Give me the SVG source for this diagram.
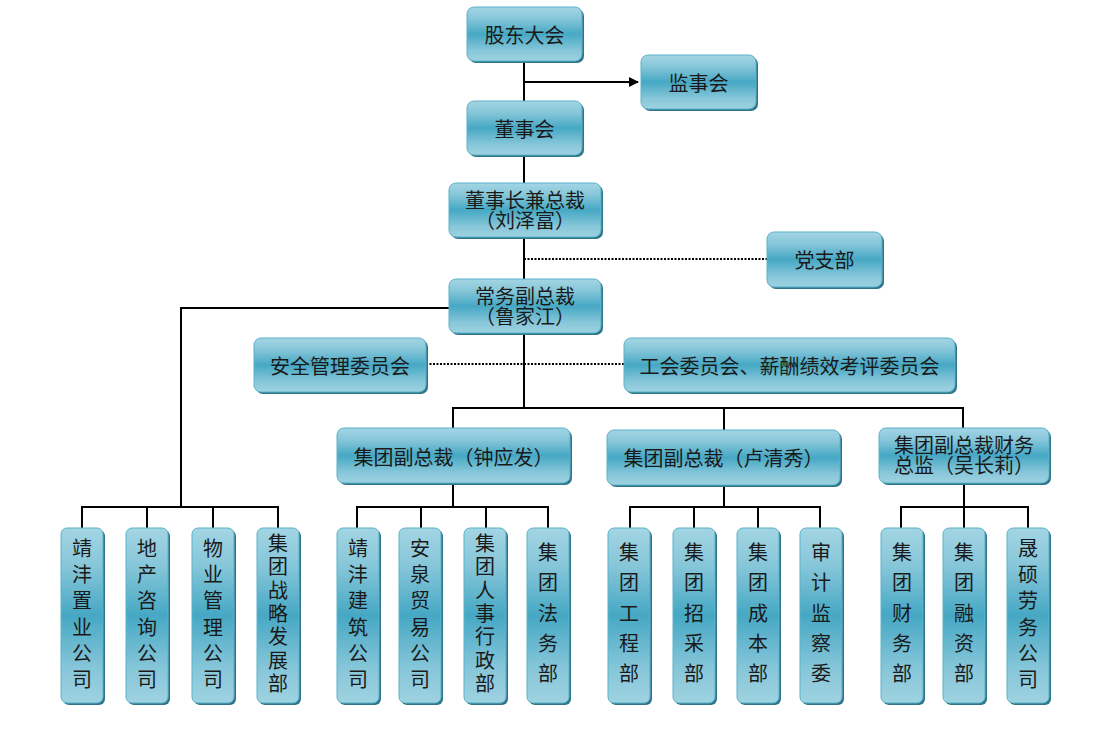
<svg xmlns="http://www.w3.org/2000/svg" width="1105" height="741" viewBox="0 0 1105 741">
<defs>
<linearGradient id="g" x1="0" y1="0" x2="0" y2="1">
<stop offset="0" stop-color="#a3d5e4"/>
<stop offset="0.22" stop-color="#86c6d9"/>
<stop offset="0.5" stop-color="#46a8c4"/>
<stop offset="0.8" stop-color="#86c6d9"/>
<stop offset="1" stop-color="#9ed2e1"/>
</linearGradient>
<marker id="arr" viewBox="0 0 10 10" refX="9" refY="5" markerWidth="5" markerHeight="5" orient="auto" markerUnits="strokeWidth">
<path d="M0,0 L10,5 L0,10 z" fill="#000"/>
</marker>
</defs>
<style>
.sh{fill:#2f7587;}
.bx{fill:url(#g);stroke:#5bb2c9;stroke-width:1;}
.t{font-family:"Liberation Serif","Noto Sans CJK SC",serif;font-size:20px;fill:#1a1a1a;text-anchor:middle;}
.ln{stroke:#000;stroke-width:2;fill:none;}
.dt{stroke:#000;stroke-width:2;fill:none;stroke-dasharray:2 1.5;}
</style>
<rect width="1105" height="741" fill="#fff"/>
<g id="connectors">
<path class="ln" d="M524,61V101"/>
<path class="ln" d="M524,82H638" marker-end="url(#arr)"/>
<path class="ln" d="M524,155V183"/>
<path class="ln" d="M524,237V279"/>
<path class="dt" d="M524,259H767"/>
<path class="ln" d="M524,333V408"/>
<path class="dt" d="M426,364H624"/>
<path class="ln" d="M449,308H181V507"/>
<path class="ln" d="M82,528V507H278V528M147,507V528M213,507V528"/>
<path class="ln" d="M453,428V408H963V428M724,408V430"/>
<path class="ln" d="M453,483V507M357,528V507H548V528M421,507V528M486,507V528"/>
<path class="ln" d="M724,485V507M630,528V507H820V528M694,507V528M758,507V528"/>
<path class="ln" d="M964,483V528M901,528V507H1028V528"/>
</g>
<g id="n-gudong"><rect class="sh" x="469" y="9" width="115" height="54" rx="7"/><rect class="bx" x="467" y="7" width="115" height="54" rx="7"/><text class="t" x="524.5" y="43">股东大会</text></g>
<g id="n-jianshi"><rect class="sh" x="643" y="57" width="115" height="54" rx="7"/><rect class="bx" x="641" y="55" width="115" height="54" rx="7"/><text class="t" x="698.5" y="91">监事会</text></g>
<g id="n-dongshi"><rect class="sh" x="469" y="103" width="115" height="54" rx="7"/><rect class="bx" x="467" y="101" width="115" height="54" rx="7"/><text class="t" x="524.5" y="137">董事会</text></g>
<g id="n-zongcai"><rect class="sh" x="451" y="185" width="152" height="54" rx="7"/><rect class="bx" x="449" y="183" width="152" height="54" rx="7"/><text class="t" x="525" y="208">董事长兼总裁</text><text class="t" x="525" y="228">（刘泽富）</text></g>
<g id="n-dangzhi"><rect class="sh" x="769" y="234" width="115" height="55" rx="7"/><rect class="bx" x="767" y="232" width="115" height="55" rx="7"/><text class="t" x="824.5" y="268">党支部</text></g>
<g id="n-changwu"><rect class="sh" x="451" y="281" width="152" height="54" rx="7"/><rect class="bx" x="449" y="279" width="152" height="54" rx="7"/><text class="t" x="525" y="304">常务副总裁</text><text class="t" x="525" y="324">（鲁家江）</text></g>
<g id="n-anquan"><rect class="sh" x="256" y="340" width="172" height="54" rx="7"/><rect class="bx" x="254" y="338" width="172" height="54" rx="7"/><text class="t" x="340" y="374">安全管理委员会</text></g>
<g id="n-gonghui"><rect class="sh" x="626" y="340" width="331" height="54" rx="7"/><rect class="bx" x="624" y="338" width="331" height="54" rx="7"/><text class="t" x="789.5" y="374">工会委员会、薪酬绩效考评委员会</text></g>
<g id="n-zhong"><rect class="sh" x="339" y="430" width="233" height="55" rx="7"/><rect class="bx" x="337" y="428" width="233" height="55" rx="7"/><text class="t" x="453.5" y="464.5">集团副总裁（钟应发）</text></g>
<g id="n-lu"><rect class="sh" x="609" y="432" width="233" height="55" rx="7"/><rect class="bx" x="607" y="430" width="233" height="55" rx="7"/><text class="t" x="723.5" y="466">集团副总裁（卢清秀）</text></g>
<g id="n-wu"><rect class="sh" x="881" y="430" width="170" height="55" rx="7"/><rect class="bx" x="879" y="428" width="170" height="55" rx="7"/><text class="t" x="964" y="453">集团副总裁财务</text><text class="t" x="964" y="473">总监（吴长莉）</text></g>

<g id="n-jingfengzhiye"><rect class="sh" x="63" y="530" width="42" height="175" rx="6"/><rect class="bx" x="61" y="528" width="42" height="175" rx="6"/><text class="t"><tspan x="82" y="556">靖</tspan><tspan x="82" y="582.2">沣</tspan><tspan x="82" y="608.4">置</tspan><tspan x="82" y="634.6">业</tspan><tspan x="82" y="660.8">公</tspan><tspan x="82" y="687">司</tspan></text></g>
<g id="n-dichan"><rect class="sh" x="128" y="530" width="42" height="175" rx="6"/><rect class="bx" x="126" y="528" width="42" height="175" rx="6"/><text class="t"><tspan x="147" y="556">地</tspan><tspan x="147" y="582.2">产</tspan><tspan x="147" y="608.4">咨</tspan><tspan x="147" y="634.6">询</tspan><tspan x="147" y="660.8">公</tspan><tspan x="147" y="687">司</tspan></text></g>
<g id="n-wuye"><rect class="sh" x="194" y="530" width="42" height="175" rx="6"/><rect class="bx" x="192" y="528" width="42" height="175" rx="6"/><text class="t"><tspan x="213" y="556">物</tspan><tspan x="213" y="582.2">业</tspan><tspan x="213" y="608.4">管</tspan><tspan x="213" y="634.6">理</tspan><tspan x="213" y="660.8">公</tspan><tspan x="213" y="687">司</tspan></text></g>
<g id="n-zhanlue"><rect class="sh" x="259" y="530" width="42" height="175" rx="6"/><rect class="bx" x="257" y="528" width="42" height="175" rx="6"/><text class="t"><tspan x="278" y="551">集</tspan><tspan x="278" y="574.3">团</tspan><tspan x="278" y="597.6">战</tspan><tspan x="278" y="620.9">略</tspan><tspan x="278" y="644.2">发</tspan><tspan x="278" y="667.5">展</tspan><tspan x="278" y="691">部</tspan></text></g>

<g id="n-jingfengjianzhu"><rect class="sh" x="339" y="530" width="42" height="175" rx="6"/><rect class="bx" x="337" y="528" width="42" height="175" rx="6"/><text class="t"><tspan x="358" y="556">靖</tspan><tspan x="358" y="582.2">沣</tspan><tspan x="358" y="608.4">建</tspan><tspan x="358" y="634.6">筑</tspan><tspan x="358" y="660.8">公</tspan><tspan x="358" y="687">司</tspan></text></g>
<g id="n-anquanmaoyi"><rect class="sh" x="401" y="530" width="42" height="175" rx="6"/><rect class="bx" x="399" y="528" width="42" height="175" rx="6"/><text class="t"><tspan x="420" y="556">安</tspan><tspan x="420" y="582.2">泉</tspan><tspan x="420" y="608.4">贸</tspan><tspan x="420" y="634.6">易</tspan><tspan x="420" y="660.8">公</tspan><tspan x="420" y="687">司</tspan></text></g>
<g id="n-renshi"><rect class="sh" x="466" y="530" width="42" height="175" rx="6"/><rect class="bx" x="464" y="528" width="42" height="175" rx="6"/><text class="t"><tspan x="485" y="551">集</tspan><tspan x="485" y="574.3">团</tspan><tspan x="485" y="597.6">人</tspan><tspan x="485" y="620.9">事</tspan><tspan x="485" y="644.2">行</tspan><tspan x="485" y="667.5">政</tspan><tspan x="485" y="691">部</tspan></text></g>
<g id="n-fawu"><rect class="sh" x="529" y="530" width="42" height="175" rx="6"/><rect class="bx" x="527" y="528" width="42" height="175" rx="6"/><text class="t"><tspan x="548" y="560">集</tspan><tspan x="548" y="590.2">团</tspan><tspan x="548" y="620.5">法</tspan><tspan x="548" y="650.7">务</tspan><tspan x="548" y="681">部</tspan></text></g>

<g id="n-gongcheng"><rect class="sh" x="610" y="530" width="42" height="175" rx="6"/><rect class="bx" x="608" y="528" width="42" height="175" rx="6"/><text class="t"><tspan x="629" y="560">集</tspan><tspan x="629" y="590.2">团</tspan><tspan x="629" y="620.5">工</tspan><tspan x="629" y="650.7">程</tspan><tspan x="629" y="681">部</tspan></text></g>
<g id="n-zhaocai"><rect class="sh" x="675" y="530" width="42" height="175" rx="6"/><rect class="bx" x="673" y="528" width="42" height="175" rx="6"/><text class="t"><tspan x="694" y="560">集</tspan><tspan x="694" y="590.2">团</tspan><tspan x="694" y="620.5">招</tspan><tspan x="694" y="650.7">采</tspan><tspan x="694" y="681">部</tspan></text></g>
<g id="n-chengben"><rect class="sh" x="739" y="530" width="42" height="175" rx="6"/><rect class="bx" x="737" y="528" width="42" height="175" rx="6"/><text class="t"><tspan x="758" y="560">集</tspan><tspan x="758" y="590.2">团</tspan><tspan x="758" y="620.5">成</tspan><tspan x="758" y="650.7">本</tspan><tspan x="758" y="681">部</tspan></text></g>
<g id="n-shenji"><rect class="sh" x="802" y="530" width="42" height="175" rx="6"/><rect class="bx" x="800" y="528" width="42" height="175" rx="6"/><text class="t"><tspan x="821" y="560">审</tspan><tspan x="821" y="590.2">计</tspan><tspan x="821" y="620.5">监</tspan><tspan x="821" y="650.7">察</tspan><tspan x="821" y="681">委</tspan></text></g>

<g id="n-caiwu"><rect class="sh" x="883" y="530" width="42" height="175" rx="6"/><rect class="bx" x="881" y="528" width="42" height="175" rx="6"/><text class="t"><tspan x="902" y="560">集</tspan><tspan x="902" y="590.2">团</tspan><tspan x="902" y="620.5">财</tspan><tspan x="902" y="650.7">务</tspan><tspan x="902" y="681">部</tspan></text></g>
<g id="n-rongzi"><rect class="sh" x="945" y="530" width="42" height="175" rx="6"/><rect class="bx" x="943" y="528" width="42" height="175" rx="6"/><text class="t"><tspan x="964" y="560">集</tspan><tspan x="964" y="590.2">团</tspan><tspan x="964" y="620.5">融</tspan><tspan x="964" y="650.7">资</tspan><tspan x="964" y="681">部</tspan></text></g>
<g id="n-laowu"><rect class="sh" x="1009" y="530" width="42" height="175" rx="6"/><rect class="bx" x="1007" y="528" width="42" height="175" rx="6"/><text class="t"><tspan x="1028" y="556">晟</tspan><tspan x="1028" y="582.2">硕</tspan><tspan x="1028" y="608.4">劳</tspan><tspan x="1028" y="634.6">务</tspan><tspan x="1028" y="660.8">公</tspan><tspan x="1028" y="687">司</tspan></text></g>
</svg>
